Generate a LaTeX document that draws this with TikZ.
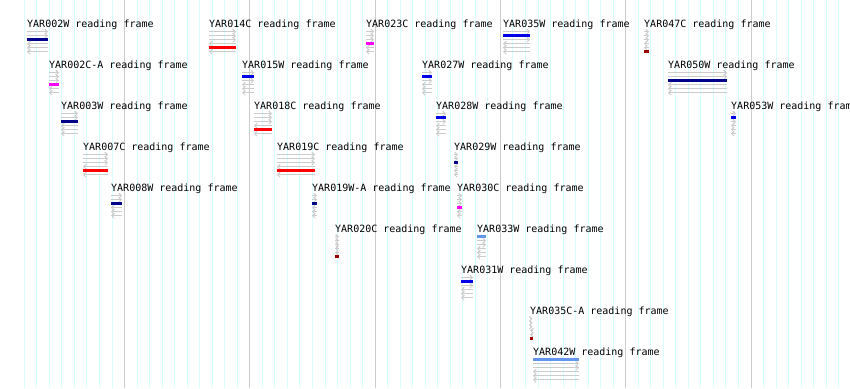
\documentclass[tikz,border=0pt]{standalone}
\usepackage{fontspec}
\newfontfamily\orffont{DejaVu Sans Mono}
\usetikzlibrary{arrows.meta}
\definecolor{orfnavy}{RGB}{0,0,139}
\definecolor{orfblue}{RGB}{0,0,230}
\definecolor{orfred}{RGB}{255,0,0}
\definecolor{orfpink}{RGB}{255,0,255}
\definecolor{orfdark}{RGB}{153,0,0}
\definecolor{orfsky}{RGB}{100,149,237}
\definecolor{gridminor}{RGB}{215,255,255}
\definecolor{gridmajor}{RGB}{204,204,204}
\tikzstyle{orflabel}=[font=\orffont\fontsize{10}{12}\selectfont,inner sep=0pt,anchor=base west]
\tikzstyle{fwd}=[-{Straight Barb[length=2.5pt,width=5pt]},draw=gridmajor,line width=1pt]
\tikzstyle{rev}=[{Straight Barb[length=2.5pt,width=5pt]}-,draw=gridmajor,line width=1pt]
\tikzstyle{orfbar}=[line width=3pt]
\newcommand\orf[6]{% name, left x, level, width, frame row, colour
  \pgfmathsetmacro\orfy{20+41*#3}
  \node[orflabel] (#1) at (#2,\orfy+7.3) {#1 reading frame};
  \foreach \fr in {1,...,6}{
    \pgfmathsetmacro\fry{\orfy+11.7+4*(\fr-1)}
    \ifnum\fr=#5 \draw[orfbar,#6] (#2,\fry) -- ++(#4,0);
    \else\ifnum\fr<4 \draw[fwd] (#2,\fry) -- ++(#4,0);
    \else \draw[rev] (#2,\fry) -- ++(#4,0); \fi\fi}
}

\begin{document}
\begin{tikzpicture}[x=1pt,y=-1pt]
  \useasboundingbox (0,0) rectangle (850,388);
  % grid
  \foreach \j in {0,...,65}
    \draw[gridminor,line width=1pt] (24.3+12.53*\j,0) -- ++(0,388);
  \foreach \j in {8,18,...,58}
    \draw[gridmajor,line width=1pt] (24.3+12.53*\j,0) -- ++(0,388);

  \foreach \orfname/\orfx/\orflev/\orfw/\orfrow/\orfcol in {
      YAR002W/27/0/21/3/orfnavy, YAR014C/209/0/27/5/orfred,
      YAR023C/366/0/8/4/orfpink, YAR035W/503/0/27/2/orfblue,
      YAR047C/644/0/5/6/orfdark, YAR002C-A/49/1/10/4/orfpink,
      YAR015W/242/1/12/2/orfblue, YAR027W/422/1/10/2/orfblue,
      YAR050W/668/1/59/3/orfnavy, YAR003W/61/2/17/3/orfnavy,
      YAR018C/254/2/18/5/orfred, YAR028W/436/2/10/2/orfblue,
      YAR053W/731/2/5/2/orfblue, YAR007C/83/3/25/5/orfred,
      YAR019C/277/3/38/5/orfred, YAR029W/454/3/4/3/orfnavy,
      YAR008W/111/4/11/3/orfnavy, YAR019W-A/312/4/5/3/orfnavy,
      YAR030C/457/4/5/4/orfpink, YAR020C/335/5/4/6/orfdark,
      YAR033W/477/5/9/1/orfsky, YAR031W/461/6/12/2/orfblue,
      YAR035C-A/530/7/2.5/6/orfdark, YAR042W/533/8/46/1/orfsky}
    \orf{\orfname}{\orfx}{\orflev}{\orfw}{\orfrow}{\orfcol};
\end{tikzpicture}
\end{document}
